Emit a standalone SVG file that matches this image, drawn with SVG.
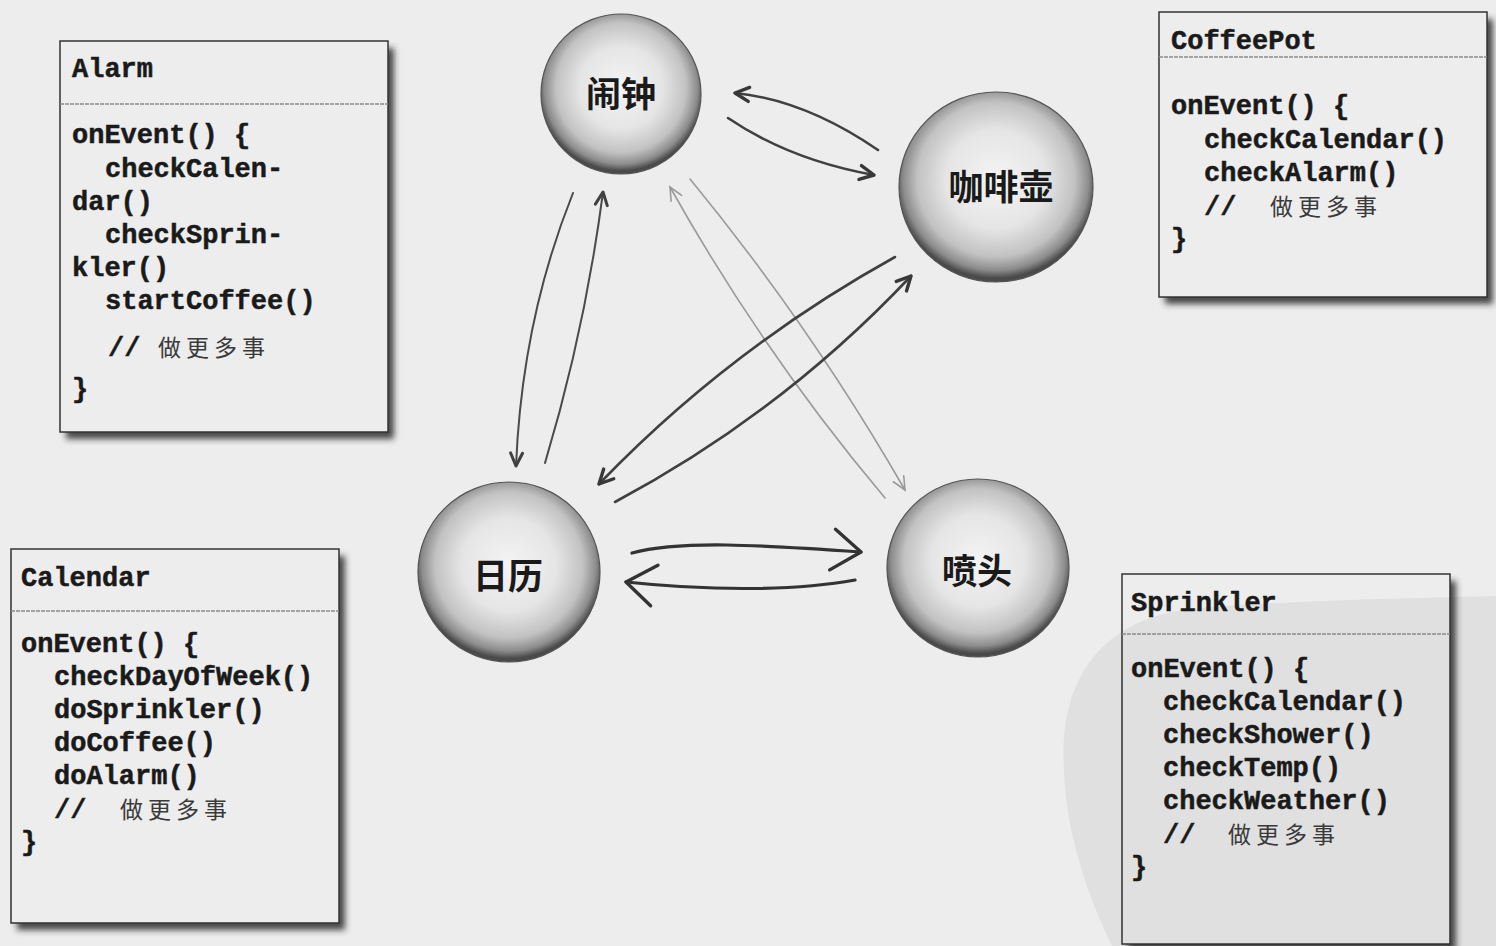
<svg xmlns="http://www.w3.org/2000/svg" width="1496" height="946" viewBox="0 0 1496 946">
<style>
.box{fill:none;stroke:#333;stroke-width:1.5}
.div{stroke:#8a8a8a;stroke-width:1.6;stroke-dasharray:4 1}
.shadow{fill:#2a2a2a;fill-opacity:0.85;filter:url(#blur)}
.code{font-family:"Liberation Mono","Courier New",monospace;font-weight:bold;font-size:27px;fill:#1a1a1a;stroke:#1a1a1a;stroke-width:0.5}
.cjk{font-family:"Noto Sans CJK SC","Noto Sans",sans-serif;font-weight:normal;font-size:23px;letter-spacing:5px;fill:#3a3a3a;stroke:none}
.sphere{fill:url(#sg);stroke:#555;stroke-width:1.2}
.label{font-family:"Noto Sans CJK SC","Noto Sans",sans-serif;font-weight:bold;font-size:35px;fill:#1a1a1a;text-anchor:middle}
.dark{fill:none;stroke:#404040;stroke-width:2.6;stroke-linecap:round}
.thin{fill:none;stroke:#4a4a4a;stroke-width:2;stroke-linecap:round}
.light{fill:none;stroke:#9a9a9a;stroke-width:1.6;stroke-linecap:round}
.heavy{fill:none;stroke:#333;stroke-width:3.2;stroke-linecap:round}
</style>
<defs>
<filter id="blur" x="-10%" y="-10%" width="120%" height="120%"><feGaussianBlur stdDeviation="3"/></filter>
<radialGradient id="sg" cx="50%" cy="46%" r="52%">
<stop offset="0" stop-color="#f4f4f4"/>
<stop offset="0.5" stop-color="#e5e5e5"/>
<stop offset="0.78" stop-color="#c2c2c2"/>
<stop offset="0.92" stop-color="#8c8c8c"/>
<stop offset="1" stop-color="#4a4a4a"/>
</radialGradient>
<clipPath id="cA"><path clip-rule="evenodd" d="M0 0H1496V946H0Z M60 41H388V432H60Z"/></clipPath>
<clipPath id="cP"><path clip-rule="evenodd" d="M0 0H1496V946H0Z M1159 12H1487V297H1159Z"/></clipPath>
<clipPath id="cC"><path clip-rule="evenodd" d="M0 0H1496V946H0Z M11 549H339V923H11Z"/></clipPath>
<clipPath id="cS"><path clip-rule="evenodd" d="M0 0H1496V946H0Z M1122 574H1450V944H1122Z"/></clipPath>
<marker id="ah" markerUnits="userSpaceOnUse" markerWidth="24" markerHeight="20" viewBox="-20 -10 24 20" refX="0" refY="0" orient="auto" overflow="visible">
<path d="M-14,-7 L0,0 L-14,7" fill="none" stroke="#383838" stroke-width="3.4" stroke-linecap="round" stroke-linejoin="round"/>
</marker>
<marker id="ahThin" markerUnits="userSpaceOnUse" markerWidth="24" markerHeight="20" viewBox="-20 -10 24 20" refX="0" refY="0" orient="auto" overflow="visible">
<path d="M-13,-6 L0,0 L-13,6" fill="none" stroke="#404040" stroke-width="3" stroke-linecap="round" stroke-linejoin="round"/>
</marker>
<marker id="ahLight" markerUnits="userSpaceOnUse" markerWidth="24" markerHeight="20" viewBox="-20 -10 24 20" refX="0" refY="0" orient="auto" overflow="visible">
<path d="M-13,-6 L0,0 L-13,6" fill="none" stroke="#9a9a9a" stroke-width="1.6" stroke-linecap="round"/>
</marker>
<marker id="ahBig" markerUnits="userSpaceOnUse" markerWidth="40" markerHeight="50" viewBox="-36 -25 40 50" refX="0" refY="0" orient="auto" overflow="visible">
<path d="M-27,-21 L0,0 L-30,20" fill="none" stroke="#333" stroke-width="3.4" stroke-linecap="round" stroke-linejoin="round"/>
</marker>
</defs>

<rect x="0" y="0" width="1496" height="946" fill="#ededed"/>
<path id="watermark" d="M1064,770 C1058,670 1110,615 1200,608 C1300,600 1420,598 1496,596 L1496,946 L1112,946 C1085,890 1066,830 1064,770 Z" fill="#000" fill-opacity="0.055"/>

<g id="connectors">
<path class="dark" d="M878,150 Q805,100 735,93" marker-end="url(#ah)"/>
<path class="dark" d="M728,118 Q790,160 874,175" marker-end="url(#ah)"/>
<path class="thin" d="M573,193 Q522,320 516,466" marker-end="url(#ahThin)"/>
<path class="thin" d="M545,463 Q585,330 603,192" marker-end="url(#ahThin)"/>
<path class="light" d="M690,179 Q810,325 905,490" marker-end="url(#ahLight)"/>
<path class="light" d="M885,498 Q763,353 670,187" marker-end="url(#ahLight)"/>
<path class="dark" d="M895,257 Q729,349 599,484" marker-end="url(#ah)"/>
<path class="dark" d="M615,502 Q782,413 911,276" marker-end="url(#ah)"/>
<path class="heavy" d="M632,553 C680,540 760,545 861,552" marker-end="url(#ahBig)"/>
<path class="heavy" d="M855,580 C790,592 700,590 626,582" marker-end="url(#ahBig)"/>
</g>

<g id="node-alarm-sphere">
<ellipse class="sphere" cx="621" cy="94" rx="80" ry="80"/>
<text class="label" x="621" y="107">闹钟</text>
</g>
<g id="node-coffeepot-sphere">
<ellipse class="sphere" cx="996" cy="187" rx="97" ry="95"/>
<text class="label" x="1001" y="200">咖啡壶</text>
</g>
<g id="node-calendar-sphere">
<ellipse class="sphere" cx="509" cy="572" rx="91" ry="90"/>
<text class="label" x="508" y="589">日历</text>
</g>
<g id="node-sprinkler-sphere">
<ellipse class="sphere" cx="978" cy="568" rx="91" ry="89"/>
<text class="label" x="977" y="584">喷头</text>
</g>

<g id="node-alarm-box">
<rect class="shadow" x="66" y="48" width="328" height="391" clip-path="url(#cA)"/>
<rect class="box" x="60" y="41" width="328" height="391"/>
<line class="div" x1="60" y1="104" x2="388" y2="104"/>
<text class="code" x="72" y="77">Alarm</text>
<text class="code" x="72" y="143">onEvent() {</text>
<text class="code" x="105" y="177">checkCalen-</text>
<text class="code" x="72" y="210">dar()</text>
<text class="code" x="105" y="243">checkSprin-</text>
<text class="code" x="72" y="276">kler()</text>
<text class="code" x="105" y="309">startCoffee()</text>
<text class="code" x="108" y="356">//<tspan class="cjk" x="158" y="356">做更多事</tspan></text>
<text class="code" x="72" y="397">}</text>
</g>

<g id="node-coffeepot-box">
<rect class="shadow" x="1165" y="19" width="328" height="285" clip-path="url(#cP)"/>
<rect class="box" x="1159" y="12" width="328" height="285"/>
<line class="div" x1="1159" y1="57" x2="1487" y2="57"/>
<text class="code" x="1171" y="49">CoffeePot</text>
<text class="code" x="1171" y="114">onEvent() {</text>
<text class="code" x="1204" y="148">checkCalendar()</text>
<text class="code" x="1204" y="181">checkAlarm()</text>
<text class="code" x="1204" y="215">//<tspan class="cjk" x="1270" y="215">做更多事</tspan></text>
<text class="code" x="1171" y="247">}</text>
</g>

<g id="node-calendar-box">
<rect class="shadow" x="17" y="556" width="328" height="374" clip-path="url(#cC)"/>
<rect class="box" x="11" y="549" width="328" height="374"/>
<line class="div" x1="11" y1="611" x2="339" y2="611"/>
<text class="code" x="21" y="586">Calendar</text>
<text class="code" x="21" y="652">onEvent() {</text>
<text class="code" x="54" y="685">checkDayOfWeek()</text>
<text class="code" x="54" y="718">doSprinkler()</text>
<text class="code" x="54" y="751">doCoffee()</text>
<text class="code" x="54" y="784">doAlarm()</text>
<text class="code" x="54" y="818">//<tspan class="cjk" x="120" y="818">做更多事</tspan></text>
<text class="code" x="21" y="850">}</text>
</g>

<g id="node-sprinkler-box">
<rect class="shadow" x="1128" y="581" width="328" height="370" clip-path="url(#cS)"/>
<rect class="box" x="1122" y="574" width="328" height="370"/>
<line class="div" x1="1122" y1="634" x2="1450" y2="634"/>
<text class="code" x="1131" y="611">Sprinkler</text>
<text class="code" x="1131" y="677">onEvent() {</text>
<text class="code" x="1163" y="710">checkCalendar()</text>
<text class="code" x="1163" y="743">checkShower()</text>
<text class="code" x="1163" y="776">checkTemp()</text>
<text class="code" x="1163" y="809">checkWeather()</text>
<text class="code" x="1163" y="843">//<tspan class="cjk" x="1228" y="843">做更多事</tspan></text>
<text class="code" x="1131" y="875">}</text>
</g>
</svg>
